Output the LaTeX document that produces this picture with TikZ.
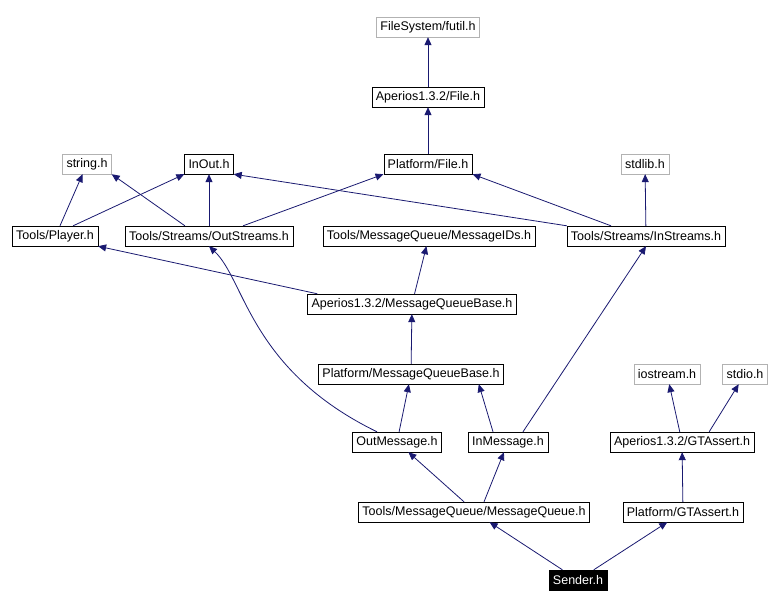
\documentclass[tikz,border=0pt]{standalone}
\usepackage{fontspec}
\setmainfont{Liberation Sans}
\usetikzlibrary{arrows.meta}
\definecolor{edgeblue}{HTML}{191970}
\begin{document}
\begin{tikzpicture}[x=1pt,y=-1pt,
                    every node/.style={rectangle, draw=black, fill=white, inner sep=0pt, inner xsep=4pt,
                                       minimum height=20pt, font=\fontsize{12.5}{14}\selectfont},
                    ext/.style={draw=black!30},
                    root/.style={fill=black, text=white},
                    edge_style/.style={draw=edgeblue, line width=0.8pt, -{Triangle[length=8pt,width=7pt]}}]
                    \useasboundingbox (0,0) rectangle (775,609);
                    \node[ext] (futil) at (428,27) {FileSystem/futil.h};
                    \node (afile) at (428,97) {Aperios1.3.2/File.h};
                    \node (pfile) at (428,164) {Platform/File.h};
                    \node[ext] (string) at (87,164) {string.h};
                    \node (inout) at (209,164) {InOut.h};
                    \node[ext] (stdlib) at (645,164) {stdlib.h};
                    \node (player) at (55,236) {Tools/Player.h};
                    \node (outstr) at (209,236) {Tools/Streams/OutStreams.h};
                    \node (msgids) at (429,236) {Tools/MessageQueue/MessageIDs.h};
                    \node (instr) at (646,236) {Tools/Streams/InStreams.h};
                    \node (amqb) at (412,304) {Aperios1.3.2/MessageQueueBase.h};
                    \node (pmqb) at (411,374) {Platform/MessageQueueBase.h};
                    \node[ext] (iostream) at (667,374) {iostream.h};
                    \node[ext] (stdio) at (745,374) {stdio.h};
                    \node (outmsg) at (397,442) {OutMessage.h};
                    \node (inmsg) at (508,442) {InMessage.h};
                    \node (agta) at (682,442) {Aperios1.3.2/GTAssert.h};
                    \node (mq) at (474,512) {Tools/MessageQueue/MessageQueue.h};
                    \node (pgta) at (683,512) {Platform/GTAssert.h};
                    \node[root] (sender) at (578,580) {Sender.h};
                    \draw[edge_style] (player.north) ++(5,0) -- (string);
                    \draw[edge_style] (player.north east) ++(-25,0) -- (inout.south west);
                    \draw[edge_style] (afile) -- (futil);
                    \draw[edge_style] (pfile) -- (afile);
                    \draw[edge_style] (outstr.north west) ++(60,0) -- (string.south east);
                    \draw[edge_style] (outstr) -- (inout);
                    \draw[edge_style] (outstr.north east) ++(-50,0) -- (pfile.south west);
                    \draw[edge_style] (instr.north west) -- (inout.south east);
                    \draw[edge_style] (instr.north) ++(-35,0) -- (pfile.south east);
                    \draw[edge_style] (instr) -- (stdlib);
                    \draw[edge_style] (amqb.north west) ++(10,0) -- (player.south east);
                    \draw[edge_style] (amqb) -- (msgids);
                    \draw[edge_style] (pmqb) -- (amqb);
                    \draw[edge_style] (outmsg.north) ++(-20,0) .. controls (250,370) and (245,280) .. (outstr.south);
                    \draw[edge_style] (outmsg) -- (pmqb);
                    \draw[edge_style] (inmsg.north) ++(-15,0) -- ([xshift=-25pt]pmqb.south east);
                    \draw[edge_style] (inmsg.north east) ++(-25,0) -- (instr.south);
                    \draw[edge_style] (agta) -- (iostream);
                    \draw[edge_style] (agta.north east) ++(-45,0) -- (stdio);
                    \draw[edge_style] (pgta) -- (agta);
                    \draw[edge_style] (mq.north) ++(-10,0) -- (outmsg);
                    \draw[edge_style] (mq.north) ++(10,0) -- (inmsg);
                    \draw[edge_style] (sender) -- (mq);
                    \draw[edge_style] (sender) -- (pgta);
                \end{tikzpicture}
\end{document}
